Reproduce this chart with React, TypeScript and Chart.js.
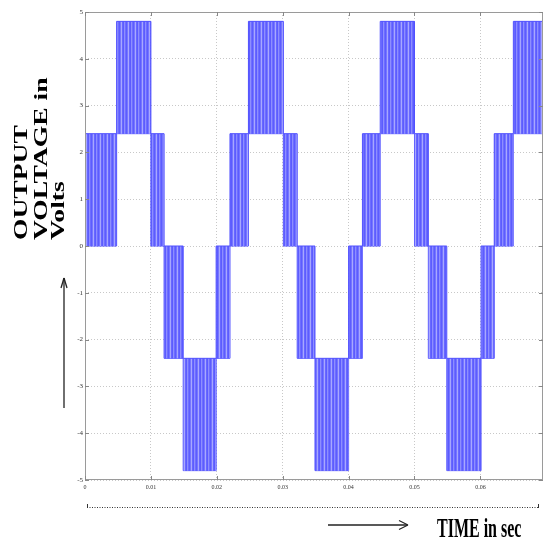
import React, { useEffect, useRef } from "react";
import { Chart, registerables } from "chart.js";

Chart.register(...registerables);

// Switching bands of the PWM output (time in s, voltage levels in V)
const bandStart = [0, 0.0048, 0.01, 0.012, 0.0149, 0.0199, 0.022, 0.0248, 0.0301, 0.0322, 0.0349, 0.04, 0.0421, 0.0448, 0.05, 0.0521, 0.0549, 0.0601, 0.0621, 0.065];
const endTime = 0.0695;
const bandLow = [0, 2.4, 0, -2.4, -4.8, -2.4, 0, 2.4, 0, -2.4, -4.8, -2.4, 0, 2.4, 0, -2.4, -4.8, -2.4, 0, 2.4];
const bandHigh = [2.4, 4.8, 2.4, 0, -2.4, 0, 2.4, 4.8, 2.4, 0, -2.4, 0, 2.4, 4.8, 2.4, 0, -2.4, 0, 2.4, 4.8];

const xTicks = [0, 0.01, 0.02, 0.03, 0.04, 0.05, 0.06];
const xTickLabels = ["0", "0.01", "0.02", "0.03", "0.04", "0.05", "0.06"];
const yTicks = [5, 4, 3, 2, 1, 0, -1, -2, -3, -4, -5];
const yTickLabels = ["5", "4", "3", "2", "1", "0", "-1", "-2", "-3", "-4", "-5"];

const yTitleLines = ["OUTPUT", "VOLTAGE in", "Volts"];
const xTitle = "TIME in sec";

const stripeShades = [92, 118, 168, 104, 92, 142, 110];

function makePattern(ctx: CanvasRenderingContext2D) {
  const c = document.createElement("canvas");
  c.width = stripeShades.length;
  c.height = 1;
  const g = c.getContext("2d")!;
  stripeShades.forEach((s, i) => {
    g.fillStyle = `rgb(${s},${s},255)`;
    g.fillRect(i, 0, 1, 1);
  });
  return ctx.createPattern(c, "repeat")!;
}

function stepPoints(values: number[]) {
  const pts = bandStart.map((x, i) => ({ x, y: values[i] }));
  pts.push({ x: endTime, y: values[values.length - 1] });
  return pts;
}

const decor = {
  id: "decor",
  afterDraw(chart: any) {
    const { ctx, chartArea: a, scales } = chart;
    const line = (x1: number, y1: number, x2: number, y2: number) => {
      ctx.beginPath();
      ctx.moveTo(x1, y1);
      ctx.lineTo(x2, y2);
      ctx.stroke();
    };
    ctx.save();
    ctx.strokeStyle = "#9a9a9a";
    ctx.lineWidth = 1;
    ctx.strokeRect(a.left + 0.5, a.top + 0.5, a.right - a.left - 1, a.bottom - a.top - 1);
    ctx.strokeStyle = "#888";
    yTicks.forEach((v) => {
      const y = Math.round(scales.y.getPixelForValue(v)) + 0.5;
      line(a.left, y, a.left + 4, y);
      line(a.right - 4, y, a.right, y);
    });
    xTicks.forEach((v) => {
      const x = Math.round(scales.x.getPixelForValue(v)) + 0.5;
      line(x, a.bottom, x, a.bottom - 4);
      line(x, a.top, x, a.top + 4);
    });
    // dotted bracket line under the axis
    ctx.strokeStyle = "#333";
    ctx.setLineDash([1, 1.5]);
    line(87, 507.5, 539, 507.5);
    ctx.setLineDash([]);
    line(87.5, 504, 87.5, 508);
    line(538.5, 504, 538.5, 508);
    // arrows
    ctx.strokeStyle = "#222";
    ctx.lineWidth = 1.3;
    line(64, 408, 64, 278);
    line(64, 278, 61, 288);
    line(64, 278, 67, 288);
    ctx.lineWidth = 1.6;
    line(328, 525, 407, 525);
    ctx.lineWidth = 1.2;
    line(408, 525, 399, 520.5);
    line(408, 525, 399, 529.5);
    ctx.restore();
  },
};

export default function App() {
  const ref = useRef<HTMLCanvasElement>(null);

  useEffect(() => {
    const canvas = ref.current!;
    const ctx = canvas.getContext("2d")!;
    const pattern = makePattern(ctx);
    const chart = new Chart(canvas, {
      type: "line",
      data: {
        datasets: [
          {
            data: stepPoints(bandHigh),
            stepped: true,
            borderColor: "rgb(80,80,255)",
            borderWidth: 1,
            backgroundColor: pattern as any,
            fill: "+1",
            pointRadius: 0,
          },
          {
            data: stepPoints(bandLow),
            stepped: true,
            borderColor: "rgb(80,80,255)",
            borderWidth: 1,
            fill: false,
            pointRadius: 0,
          },
        ],
      },
      options: {
        animation: false,
        responsive: false,
        events: [],
        layout: { padding: { left: 65, right: 4, top: 12, bottom: 51 } },
        plugins: { legend: { display: false }, tooltip: { enabled: false } },
        scales: {
          x: {
            type: "linear",
            min: 0,
            max: endTime,
            z: 1,
            afterBuildTicks: (s: any) => {
              s.ticks = xTicks.map((v) => ({ value: v }));
            },
            afterFit: (s: any) => {
              s.height = 14;
            },
            ticks: {
              padding: 4,
              font: { size: 6, family: "Liberation Serif" },
              color: "#333",
              callback: (v: any) => xTickLabels[xTicks.indexOf(v)] ?? "",
            },
            grid: { color: "#c8c8c8", drawTicks: false, lineWidth: 1 },
            border: { display: false, dash: [1, 2] },
          },
          y: {
            min: -5,
            max: 5,
            z: 1,
            afterBuildTicks: (s: any) => {
              s.ticks = yTicks.map((v) => ({ value: v }));
            },
            afterFit: (s: any) => {
              s.width = 20;
            },
            ticks: {
              padding: 2,
              font: { size: 7, family: "Liberation Serif" },
              color: "#333",
              callback: (v: any) => yTickLabels[yTicks.indexOf(v)] ?? "",
            },
            grid: { color: "#c8c8c8", drawTicks: false, lineWidth: 1 },
            border: { display: false, dash: [1, 2] },
          },
        },
      },
      plugins: [decor],
    });
    return () => chart.destroy();
  }, []);

  const titleFont: React.CSSProperties = {
    position: "absolute",
    fontFamily: "'Liberation Serif', 'Times New Roman', serif",
    fontWeight: "bold",
    whiteSpace: "nowrap",
    color: "#000",
    transformOrigin: "0 0",
  };
  const yLefts = [12, 32, 49];

  return (
    <div style={{ position: "absolute", left: 0, top: 0, width: 547, height: 545, background: "#fff" }}>
      <canvas ref={ref} width={547} height={545} style={{ display: "block" }} />
      {yTitleLines.map((t, i) => (
        <div
          key={t}
          style={{
            ...titleFont,
            left: yLefts[i],
            top: 240,
            fontSize: 18,
            lineHeight: "18px",
            transform: "rotate(-90deg) scaleX(1.53)",
          }}
        >
          {t}
        </div>
      ))}
      <div
        style={{
          ...titleFont,
          left: 437,
          top: 515,
          fontSize: 16,
          lineHeight: "16px",
          transform: "scaleY(1.7)",
        }}
      >
        {xTitle}
      </div>
    </div>
  );
}
